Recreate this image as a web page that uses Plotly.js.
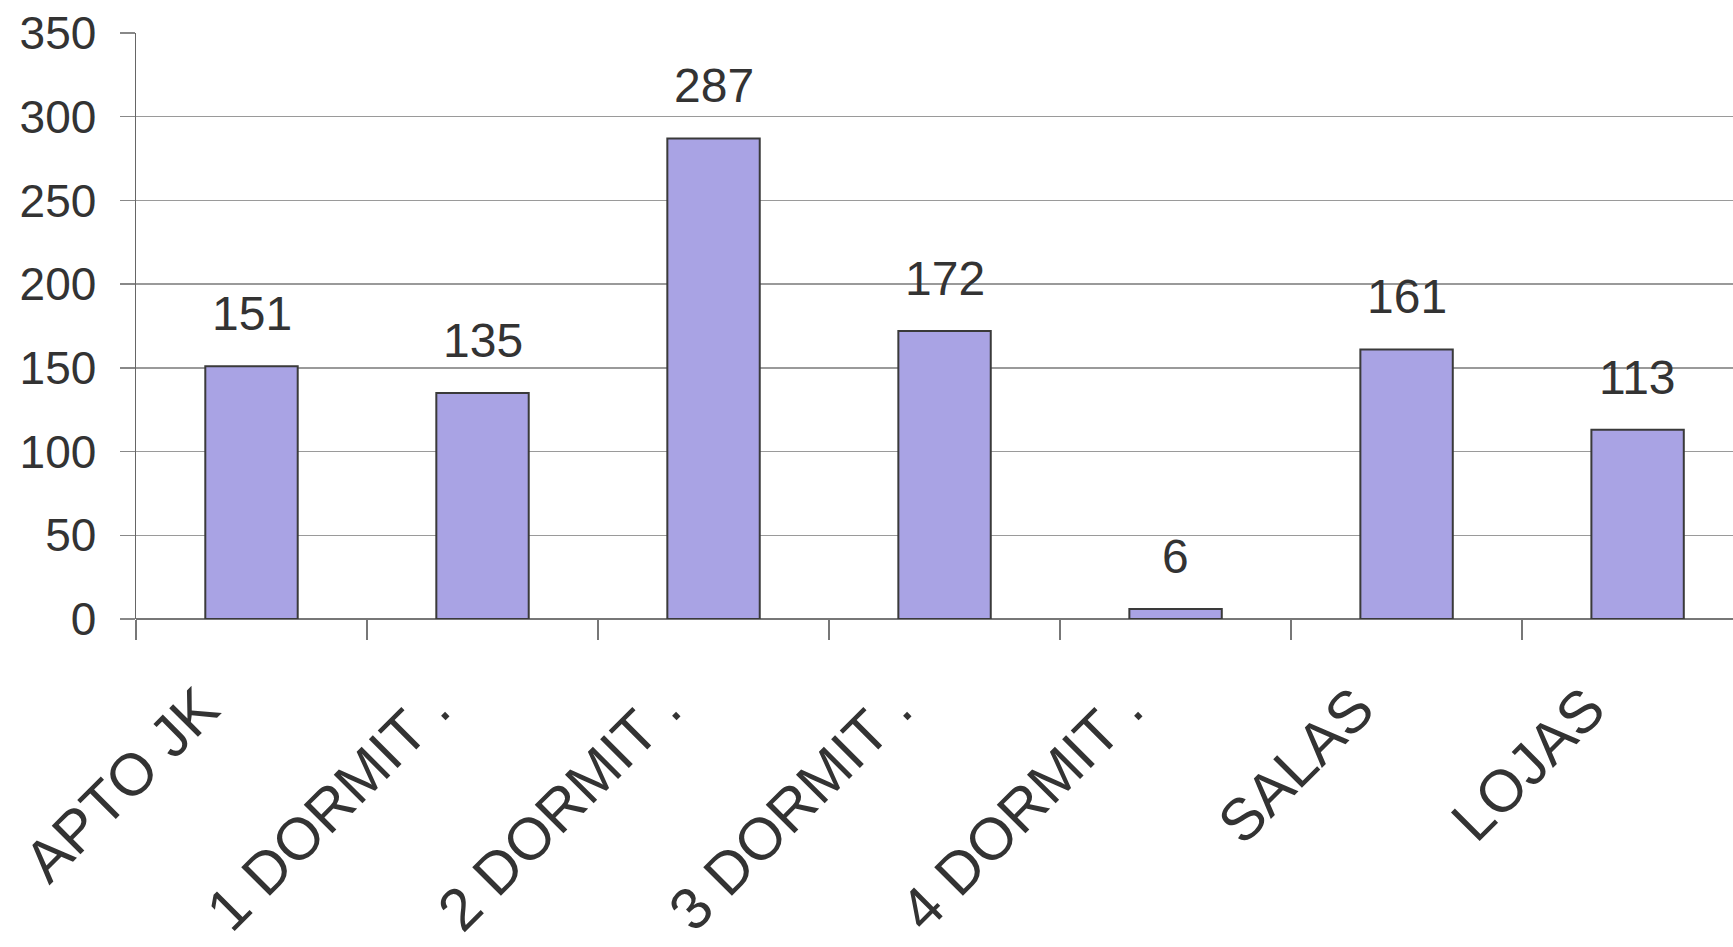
<!DOCTYPE html>
<html>
<head>
<meta charset="utf-8">
<script src="https://cdn.plot.ly/plotly-3.0.1.min.js"></script>
<style>html,body{margin:0;padding:0;background:#fff;}#chart{width:1733px;height:947px;}</style>
</head>
<body>
<div id="chart"></div>
<script>
const categories = ["APTO JK", "1 DORMIT .", "2 DORMIT .", "3 DORMIT .", "4 DORMIT .", "SALAS", "LOJAS"];
const values = [151, 135, 287, 172, 6, 161, 113];
const yTicks = [0, 50, 100, 150, 200, 250, 300, 350];

const trace = {
  type: "bar",
  x: categories,
  y: values,
  width: 0.4,
  marker: { color: "#a9a3e4", line: { color: "#3a3a3a", width: 2 } },
  hoverinfo: "x+y"
};

const annotations = categories.map((c, i) => ({
  x: c, y: values[i], xref: "x", yref: "y",
  text: String(values[i]), showarrow: false,
  yanchor: "bottom", yshift: 24,
  font: { family: "Liberation Sans, Arial, sans-serif", size: 48, color: "#333" }
}));

const layout = {
  width: 1733, height: 947,
  margin: { l: 136, r: 0, t: 33, b: 328, pad: 0 },
  paper_bgcolor: "#fff", plot_bgcolor: "#fff",
  showlegend: false,
  font: { family: "Liberation Sans, Arial, sans-serif", color: "#333" },
  xaxis: {
    type: "category",
    range: [-0.5, 6.413],
    showgrid: false,
    showline: false,
    zeroline: false,
    ticks: "outside", ticklen: 20, tickcolor: "#777", tickwidth: 1.5,
    tickson: "boundaries",
    tickangle: -45,
    ticklabelstandoff: 42,
    ticklabelshift: -50,
    tickfont: { size: 59, color: "#333" },
    automargin: false
  },
  yaxis: {
    range: [0, 350],
    tickvals: yTicks,
    ticktext: yTicks.map(String),
    showgrid: true, gridcolor: "#9a9a9a", gridwidth: 1.5,
    showline: true, linecolor: "#666", linewidth: 1.5,
    zeroline: true, zerolinecolor: "#777", zerolinewidth: 2,
    ticks: "outside", ticklen: 15, tickcolor: "#888", tickwidth: 1.5,
    ticklabelstandoff: 14,
    tickfont: { size: 46, color: "#333" },
    automargin: false
  },
  annotations: annotations
};

Plotly.newPlot("chart", [trace], layout, { displayModeBar: false, staticPlot: true });
</script>
</body>
</html>
